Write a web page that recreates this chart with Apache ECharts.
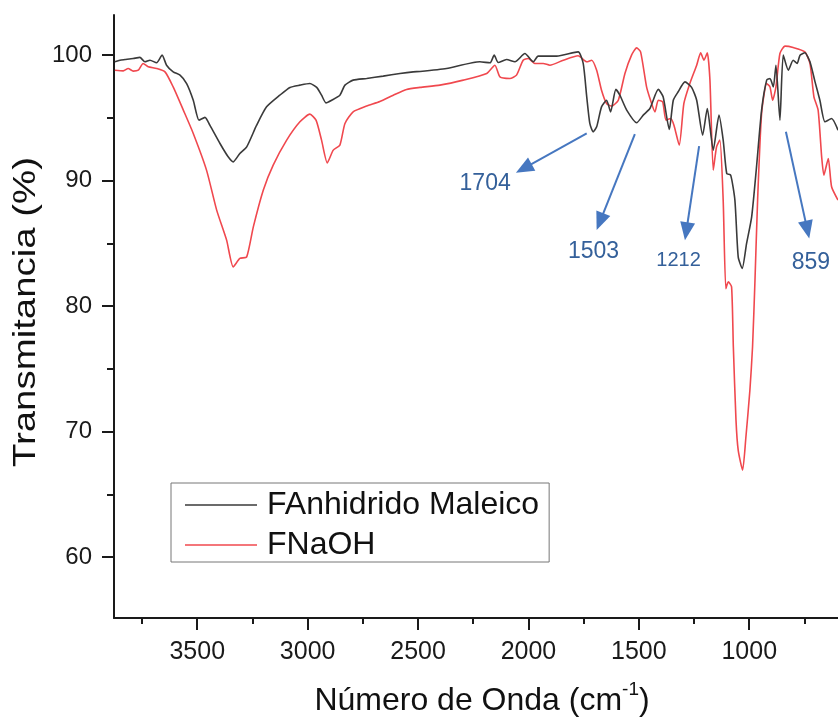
<!DOCTYPE html>
<html>
<head>
<meta charset="utf-8">
<script src="https://cdn.jsdelivr.net/npm/echarts@6/dist/echarts.min.js"></script>
<style>
html,body{margin:0;padding:0;background:#fff;}
#chart{width:838px;height:720px;}
</style>
</head>
<body>
<div id="chart"></div>
<script>
// ---- data ----
const seriesNames = ['FAnhidrido Maleico', 'FNaOH'];

const wnAnh = [3873,3850,3827,3790,3760,3737,3714,3684,3659,3639,3609,3578,3548,3518,3492,3465,3443,3397,3360,3337,3307,3276,3231,3186,3126,3080,3035,2990,2959,2937,2917,2891,2854,2831,2794,2733,2658,2582,2522,2491,2371,2220,2174,2155,2137,2099,2061,2016,1978,1956,1872,1775,1752,1736,1722,1707,1691,1669,1646,1628,1604,1586,1555,1510,1480,1450,1412,1390,1362,1344,1322,1291,1261,1238,1211,1190,1163,1137,1118,1102,1084,1065,1050,1032,1012,989,967,944,921,906,891,879,861,846,823,801,783,770,748,725,702,680,657,627,598];
const tAnh = [99.47,99.6,99.65,99.73,99.82,99.47,99.6,99.39,100.0,99.2,98.67,98.41,97.74,96.41,94.82,95.04,94.42,92.96,91.9,91.5,92.17,92.69,94.42,95.88,96.81,97.43,97.61,97.74,97.43,96.81,96.2,96.41,96.81,97.61,98.01,98.14,98.33,98.54,98.67,98.7,98.94,99.47,99.39,100.0,99.41,99.65,99.47,100.13,99.47,99.92,99.92,100.26,99.34,96.68,94.56,93.89,94.29,95.88,96.41,95.48,97.27,96.81,95.62,94.61,95.22,95.75,97.27,96.68,94.08,96.41,97.08,97.87,97.43,96.41,93.63,95.75,92.43,95.22,93.23,90.57,90.44,88.45,83.93,83.0,85.0,87.12,91.1,95.62,98.01,98.14,97.47,99.2,94.82,100.0,98.8,99.6,99.34,100.0,100.19,99.47,97.87,96.41,94.69,94.95,94.02];

const wnNaOH = [3873,3835,3813,3790,3767,3745,3722,3684,3646,3609,3563,3518,3458,3412,3367,3337,3307,3276,3246,3201,3156,3095,3035,2990,2962,2937,2911,2884,2854,2831,2794,2733,2673,2612,2552,2491,2401,2295,2189,2152,2129,2084,2054,2024,2001,1971,1933,1903,1842,1775,1736,1714,1691,1669,1646,1623,1593,1563,1533,1510,1492,1465,1447,1427,1412,1392,1377,1356,1341,1317,1296,1269,1238,1220,1205,1190,1178,1163,1148,1133,1118,1106,1095,1080,1072,1060,1050,1030,1015,997,985,974,962,944,921,906,894,879,861,838,801,748,725,707,688,672,662,642,627,598];
const tNaOH = [98.8,98.75,98.94,98.73,98.8,99.34,99.07,98.94,98.67,97.47,95.62,93.76,90.84,87.65,85.26,83.13,83.8,83.93,86.32,89.24,91.24,93.23,94.69,95.3,94.82,93.23,91.42,92.43,92.83,94.56,95.48,95.94,96.3,96.81,97.27,97.43,97.61,98.01,98.54,99.2,98.27,98.14,98.41,99.6,99.73,99.34,99.34,99.2,99.6,99.95,99.47,99.6,98.8,97.21,96.15,95.94,96.41,98.54,100.0,100.58,100.26,97.47,96.41,95.48,96.41,96.28,94.82,94.95,94.42,92.83,96.15,97.74,99.2,100.19,99.6,100.19,98.01,90.84,92.69,93.23,88.45,81.4,81.94,81.54,76.76,70.92,68.53,66.93,69.59,73.31,76.76,82.07,88.5,95.35,97.74,97.47,96.41,97.47,100.13,100.72,100.61,100.26,99.34,96.68,95.62,91.9,90.44,91.77,89.51,88.45];

const xMajorTicks = [3500,3000,2500,2000,1500,1000];
const xMinorTicks = [3750,3250,2750,2250,1750,1250,750];
const yMajorTicks = [60,70,80,90,100];
const yMinorTicks = [65,75,85,95];

// peak annotations: label, arrow start [wn, T], arrow end [wn, T], label position [wn, T]
const annoLabels = ['1704','1503','1212','859'];
const annoStart = [[1736,93.76],[1518,93.71],[1227,92.75],[834,93.89]];
const annoEnd = [[2021,90.97],[1676,86.73],[1285,85.97],[737,86.1]];
const annoText = [[2196,89.78],[1705,84.38],[1320,83.67],[721,83.48]];
const annoFont = [23,23,20,23];

// ---- chart ----
const FONT = '"Liberation Sans", Arial, sans-serif';
const zip = (a, b) => a.map((v, i) => [v, b[i]]);
const X_MIN = 598, X_MAX = 3877, Y_MIN = 55.15, Y_MAX = 103.2;
const axisColor = '#1a1a1a';
const blue = '#4677c0';
const plain = v => String(v);

const chart = echarts.init(document.getElementById('chart'), null, {renderer: 'canvas'});
chart.setOption({
  animation: false,
  backgroundColor: '#ffffff',
  textStyle: {fontFamily: FONT},
  grid: {left: 114, right: 0, top: 15, bottom: 102, containLabel: false, outerBoundsMode: 'none'},
  legend: {
    data: seriesNames,
    orient: 'vertical',
    left: 171, top: 483,
    icon: 'rect',
    itemWidth: 72, itemHeight: 1.5,
    itemGap: 8,
    padding: [6, 10, 1, 14],
    borderColor: '#777777', borderWidth: 1,
    selectedMode: false,
    textStyle: {fontFamily: FONT, fontSize: 32, lineHeight: 32, color: '#111111', padding: [0, 0, 0, 5]}
  },
  xAxis: [{
    type: 'value', inverse: true, min: X_MIN, max: X_MAX,
    position: 'bottom',
    name: '{n|Número de Onda (cm}{s|-1}{n|)}',
    nameLocation: 'middle', nameGap: 62,
    nameTextStyle: {
      padding: [0, 0, 0, 12],
      rich: {
        n: {fontFamily: FONT, fontSize: 32, lineHeight: 42, color: '#111111'},
        s: {fontFamily: FONT, fontSize: 19, lineHeight: 19, color: '#111111', verticalAlign: 'top'}
      }
    },
    axisLine: {show: true, onZero: false, lineStyle: {color: axisColor, width: 2}},
    axisTick: {show: true, customValues: xMajorTicks, length: 12, inside: false, lineStyle: {color: axisColor, width: 2}},
    axisLabel: {show: true, customValues: xMajorTicks, formatter: plain, fontSize: 25, color: '#1a1a1a', margin: 22, fontFamily: FONT},
    splitLine: {show: false}
  }, {
    type: 'value', inverse: true, min: X_MIN, max: X_MAX,
    position: 'bottom', gridIndex: 0,
    axisLine: {show: false, onZero: false},
    axisTick: {show: true, customValues: xMinorTicks, length: 6, inside: false, lineStyle: {color: axisColor, width: 2}},
    axisLabel: {show: false},
    splitLine: {show: false}
  }],
  yAxis: [{
    type: 'value', min: Y_MIN, max: Y_MAX, position: 'left',
    axisLine: {show: true, onZero: false, lineStyle: {color: axisColor, width: 2}},
    axisTick: {show: true, customValues: yMajorTicks, length: 12, inside: false, lineStyle: {color: axisColor, width: 2}},
    axisLabel: {show: true, customValues: yMajorTicks, formatter: plain, fontSize: 24, color: '#1a1a1a', margin: 22, fontFamily: FONT},
    splitLine: {show: false}
  }, {
    type: 'value', min: Y_MIN, max: Y_MAX, position: 'left', gridIndex: 0,
    axisLine: {show: false, onZero: false},
    axisTick: {show: true, customValues: yMinorTicks, length: 7, inside: false, lineStyle: {color: axisColor, width: 2}},
    axisLabel: {show: false},
    splitLine: {show: false}
  }],
  graphic: [{
    type: 'text',
    x: 26, y: 312,
    rotation: Math.PI / 2,
    scaleX: 1.2,
    silent: true,
    style: {text: 'Transmitancia (%)', fontFamily: FONT, fontSize: 32, fill: '#111111', align: 'center', verticalAlign: 'middle'}
  }],
  series: [{
    name: seriesNames[0], type: 'line', xAxisIndex: 0, yAxisIndex: 0,
    data: zip(wnAnh, tAnh),
    color: '#3a3a3a',
    showSymbol: false, symbol: 'none',
    smooth: 0.2,
    lineStyle: {color: '#3a3a3a', width: 1.6},
    itemStyle: {color: '#3a3a3a'},
    z: 3,
    markLine: {
      silent: true,
      symbol: ['none', 'triangle'],
      symbolSize: [15, 18],
      lineStyle: {color: blue, width: 2, type: 'solid'},
      itemStyle: {color: blue},
      label: {show: false},
      emphasis: {disabled: true},
      data: annoStart.map((s, i) => [{coord: s}, {coord: annoEnd[i]}])
    },
    markPoint: {
      silent: true,
      symbol: 'circle', symbolSize: 1,
      itemStyle: {color: 'rgba(0,0,0,0)'},
      label: {show: true, position: 'inside', color: '#34609a', fontFamily: FONT, formatter: '{b}'},
      data: annoText.map((c, i) => ({name: annoLabels[i], coord: c, label: {fontSize: annoFont[i]}}))
    }
  }, {
    name: seriesNames[1], type: 'line', xAxisIndex: 0, yAxisIndex: 0,
    data: zip(wnNaOH, tNaOH),
    color: '#f0484e',
    showSymbol: false, symbol: 'none',
    smooth: 0.2,
    lineStyle: {color: '#f0484e', width: 1.6},
    itemStyle: {color: '#f0484e'},
    z: 2
  }]
});
</script>
</body>
</html>
